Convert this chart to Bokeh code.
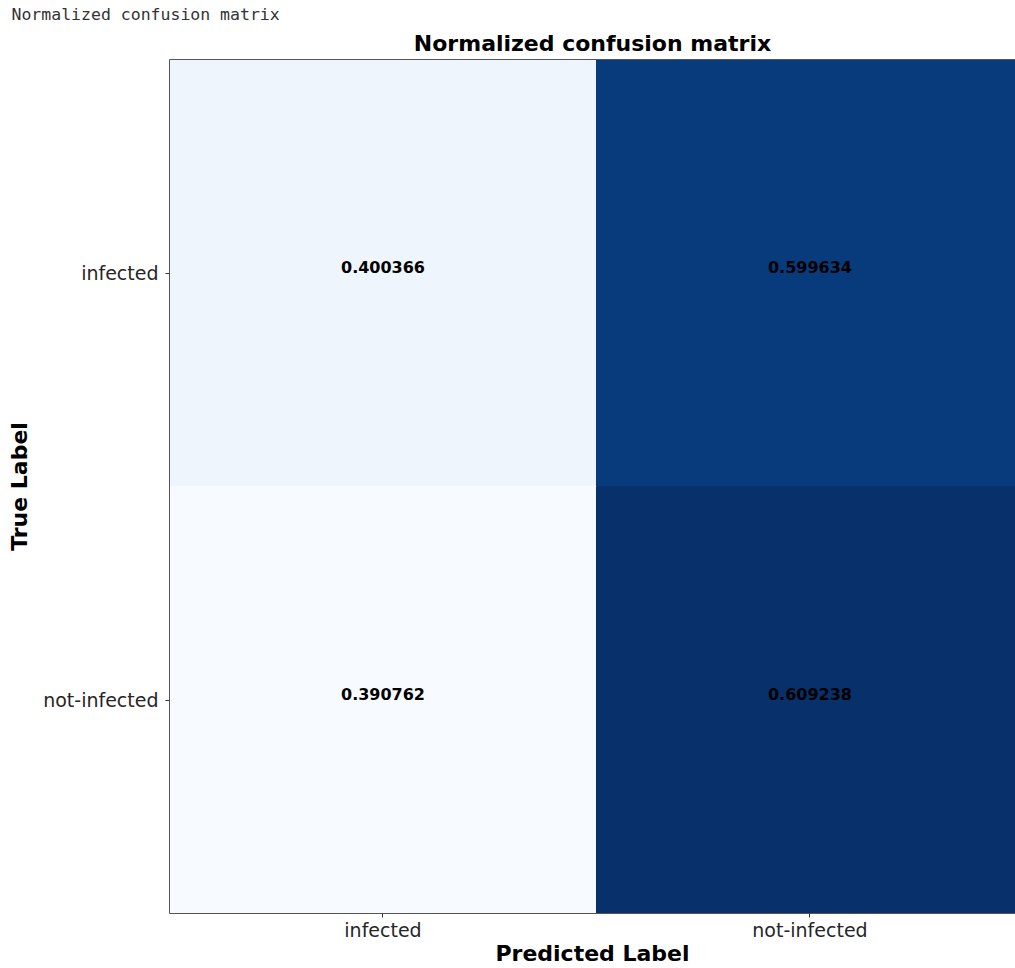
from bokeh.plotting import figure
from bokeh.models import (ColumnDataSource, LinearColorMapper, Range1d, FixedTicker,
                          LinearAxis, Title)
from bokeh.palettes import Blues256
from bokeh.embed import file_html
from bokeh.resources import INLINE
from bokeh.core.properties import value

# ---- data ----
classes = ["infected", "not-infected"]
row_infected = [0.400366, 0.599634]
row_not_infected = [0.390762, 0.609238]
title_text = "Normalized confusion matrix"
printed_text = "Normalized confusion matrix"

matrix = [row_infected, row_not_infected]
n = len(classes)
xs, ys, vals, labels = [], [], [], []
for i, row in enumerate(matrix):
    for j, v in enumerate(row):
        xs.append(j + 0.5)
        ys.append(n - i - 0.5)
        vals.append(v)
        labels.append(f"{v:.6f}")
src = ColumnDataSource(dict(x=xs, y=ys, v=vals, t=labels))

mapper = LinearColorMapper(palette=list(reversed(Blues256)), low=min(vals), high=max(vals))

FONT = "DejaVu Sans"
visible_cols = 1.9813  # the right edge of the figure is cut by the window

p = figure(width=1015, height=968, output_backend="svg", toolbar_location=None,
           x_range=Range1d(0, visible_cols), y_range=Range1d(0, n),
           x_axis_location=None, y_axis_location=None,
           min_border_left=169, min_border_right=0, min_border_top=59, min_border_bottom=55)
p.grid.visible = False
p.outline_line_color = None
p.background_fill_color = "white"

p.rect(x="x", y="y", width=1, height=1, source=src,
       fill_color={"field": "v", "transform": mapper},
       line_color={"field": "v", "transform": mapper}, line_width=1)
p.text(x="x", y="y", text="t", source=src, text_align="center", text_baseline="middle",
       text_font=value(FONT), text_font_style="bold", text_font_size="16px", text_color="black",
       y_offset=-6)

# axes
ax_b = LinearAxis(ticker=FixedTicker(ticks=[j + 0.5 for j in range(n)]),
                  major_label_overrides={j + 0.5: c for j, c in enumerate(classes)},
                  axis_label="Predicted Label")
ax_l = LinearAxis(ticker=FixedTicker(ticks=[n - i - 0.5 for i in range(n)]),
                  major_label_overrides={n - i - 0.5: c for i, c in enumerate(classes)},
                  axis_label="True Label")
for ax in (ax_b, ax_l):
    ax.minor_tick_line_color = None
    ax.major_tick_in = 0
    ax.major_tick_out = 4
    ax.major_tick_line_color = "#333333"
    ax.axis_line_color = "#555555"
    ax.axis_line_width = 1
    ax.major_label_text_font = FONT
    ax.major_label_text_font_size = "19px"
    ax.major_label_text_color = "#262626"
    ax.axis_label_text_font = FONT
    ax.axis_label_text_font_style = "bold"
    ax.axis_label_text_font_size = "22px"
    ax.axis_label_text_color = "black"
ax_l.major_label_orientation = "horizontal"
ax_l.major_label_standoff = 7
ax_l.axis_label_standoff = 8
ax_b.major_label_standoff = 1
ax_b.axis_label_standoff = -3
p.add_layout(ax_b, "below")
p.add_layout(ax_l, "left")

ax_t = LinearAxis(ticker=FixedTicker(ticks=[]), major_label_text_font_size="0px",
                  axis_line_color="#555555", major_tick_line_color=None,
                  minor_tick_line_color=None)
p.add_layout(ax_t, "above")

# main chart title, next to the frame
main_title = Title(text=title_text, text_font=FONT, text_font_style="bold",
                   text_font_size="22px", align="center", text_color="black", standoff=8)
p.add_layout(main_title, "above")

# printed notebook output line at the very top (outermost)
p.title.text = printed_text
p.title.text_font = "DejaVu Sans Mono"
p.title.text_font_style = "normal"
p.title.text_font_size = "16.5px"
p.title.text_color = "#333333"
p.title.align = "left"
p.title.offset = -158
p.title.standoff = 2

open("out.html", "w").write(file_html(p, INLINE))
